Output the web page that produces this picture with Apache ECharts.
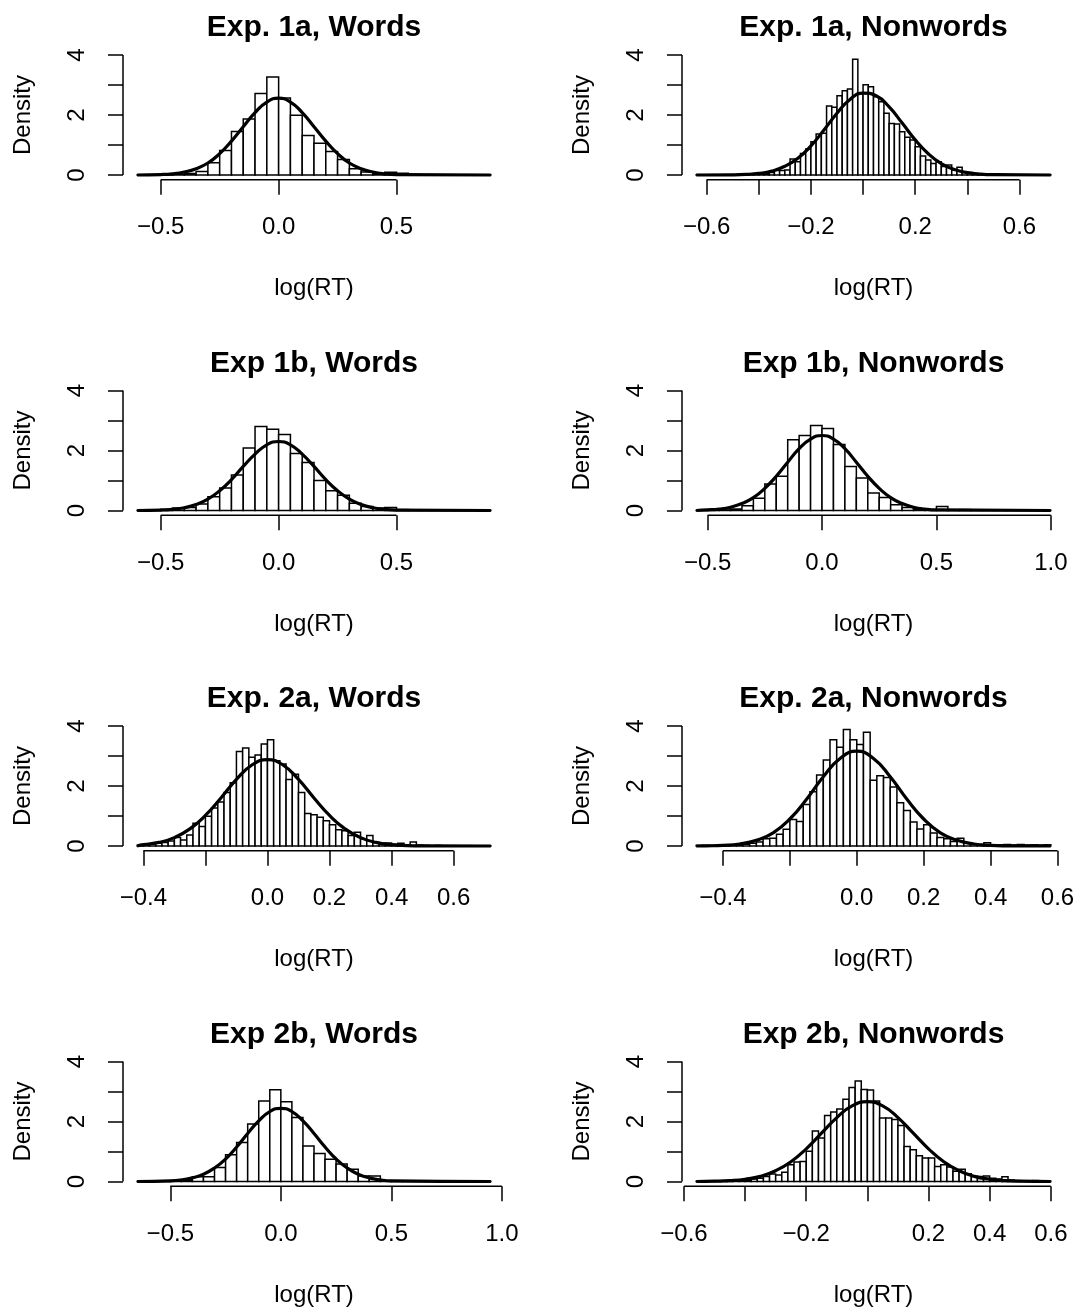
<!DOCTYPE html>
<html>
<head>
<meta charset="utf-8">
<script src="https://cdn.jsdelivr.net/npm/echarts@6/dist/echarts.min.js"></script>
<style>
  html, body { margin: 0; padding: 0; background: #fff; }
  #chart { width: 1078px; height: 1311px; }
</style>
</head>
<body>
<div id="chart"></div>
<script>
// Panel titles, in reading order (left column = words, right column = nonwords)
const panelTitles = [
  'Exp. 1a, Words', 'Exp. 1a, Nonwords',
  'Exp 1b, Words', 'Exp 1b, Nonwords',
  'Exp. 2a, Words', 'Exp. 2a, Nonwords',
  'Exp 2b, Words', 'Exp 2b, Nonwords'
];

// Histogram breaks: first break and bin width of each panel
const binStart = [-0.60, -0.64, -0.60, -0.55, -0.42, -0.48, -0.65, -0.56];
const binWidth = [0.05, 0.02, 0.05, 0.05, 0.02, 0.02, 0.05, 0.02];

// Histogram densities per bin
const dens1aWords = [0.005, 0.005, 0.01, 0.02, 0.05, 0.12, 0.41, 0.82, 1.45, 1.87, 2.72, 3.27, 2.57, 1.99, 1.32,
  1.06, 0.78, 0.52, 0.21, 0.10, 0.05, 0.09, 0.06, 0.02, 0.01, 0.01, 0.005, 0, 0.005, 0.005];
const dens1aNonwords = [0.01, 0, 0, 0.01, 0, 0.01, 0.01, 0.01, 0.02, 0.02, 0.03, 0.03, 0.04, 0.05, 0.08,
  0.15, 0.15, 0.17, 0.53, 0.44, 0.72, 0.87, 1.11, 1.37, 1.39, 2.30, 2.26, 2.64, 2.81, 2.87, 3.86, 2.72,
  3.01, 2.94, 2.61, 2.44, 2.06, 1.72, 1.70, 1.44, 1.26, 1.17, 0.94, 0.63, 0.50, 0.38, 0.44, 0.28, 0.33,
  0.17, 0.26, 0.11, 0.08, 0.05, 0.04, 0.03, 0.04, 0.02, 0.02, 0.01, 0.01, 0.01, 0, 0.01, 0, 0, 0, 0.01];
const dens1bWords = [0.005, 0.02, 0.04, 0.08, 0.10, 0.22, 0.46, 0.75, 1.18, 2.08, 2.80, 2.71, 2.53, 1.90, 1.60,
  1.00, 0.66, 0.51, 0.24, 0.13, 0.08, 0.10, 0.03, 0.02, 0.02, 0.01, 0.005, 0.01, 0.005, 0.005];
const dens1bNonwords = [0.005, 0.01, 0.02, 0.05, 0.16, 0.41, 0.88, 1.14, 2.36, 2.50, 2.83, 2.73, 2.20, 1.47, 1.08,
  0.58, 0.43, 0.19, 0.10, 0.05, 0.02, 0.13, 0.02, 0.03, 0.01, 0.005, 0.005, 0, 0.005, 0, 0.005];
const dens2aWords = [0.02, 0.04, 0.06, 0.09, 0.12, 0.17, 0.28, 0.20, 0.37, 0.76, 0.65, 0.99, 1.27, 1.47, 1.78,
  2.11, 3.15, 3.27, 2.96, 3.03, 3.40, 3.54, 2.84, 2.73, 2.22, 2.39, 1.78, 1.08, 1.04, 0.96, 0.84, 0.71,
  0.54, 0.51, 0.35, 0.46, 0.24, 0.35, 0.12, 0.09, 0.10, 0.06, 0.09, 0.03, 0.13, 0.03, 0.02, 0.01, 0.02,
  0.01, 0.01, 0.01, 0, 0.01, 0, 0, 0.01];
const dens2aNonwords = [0.02, 0.02, 0.02, 0.03, 0.02, 0.03, 0.04, 0.06, 0.09, 0.13, 0.24, 0.26, 0.39, 0.56, 0.88,
  0.82, 1.38, 1.81, 2.37, 2.87, 3.54, 3.29, 3.88, 3.54, 3.38, 3.79, 2.19, 2.34, 2.28, 1.97, 1.44, 1.18,
  0.80, 0.57, 0.71, 0.43, 0.28, 0.24, 0.15, 0.26, 0.09, 0.06, 0.05, 0.11, 0.04, 0.04, 0.05, 0.03, 0.05,
  0.03, 0.04, 0.03, 0.04];
const dens2bWords = [0.005, 0.005, 0.01, 0.01, 0.05, 0.16, 0.16, 0.47, 0.89, 1.30, 1.92, 2.68, 3.06, 2.66, 2.13,
  1.18, 0.93, 0.74, 0.58, 0.41, 0.18, 0.18, 0.02, 0.02, 0.01, 0.01, 0.005, 0.005, 0, 0.005, 0, 0.005];
const dens2bNonwords = [0.01, 0.01, 0.01, 0.02, 0.02, 0.02, 0.03, 0.03, 0.05, 0.08, 0.11, 0.17, 0.25, 0.22, 0.31,
  0.56, 0.65, 0.67, 1.01, 1.68, 1.45, 2.20, 2.32, 2.42, 2.74, 3.13, 3.35, 3.07, 3.05, 2.68, 2.12, 2.12,
  2.07, 1.87, 1.17, 1.06, 0.86, 0.78, 0.78, 0.50, 0.56, 0.48, 0.34, 0.41, 0.26, 0.17, 0.17, 0.18, 0.11,
  0.08, 0.16, 0.05, 0.03, 0.02, 0.02, 0.03, 0.02, 0.01];

// Fitted normal density, sampled at curveX
const curveX = [-0.5, -0.45, -0.4, -0.35, -0.3, -0.25, -0.2, -0.15, -0.1, -0.05, 0,
  0.05, 0.1, 0.15, 0.2, 0.25, 0.3, 0.35, 0.4, 0.45, 0.5];
const fit1aWords = [0.015, 0.04, 0.10, 0.21, 0.40, 0.71, 1.13, 1.61, 2.08, 2.43, 2.56,
  2.43, 2.08, 1.61, 1.13, 0.71, 0.40, 0.21, 0.10, 0.04, 0.015];
const fit1aNonwords = [0.006, 0.019, 0.053, 0.13, 0.29, 0.56, 0.97, 1.50, 2.06, 2.52, 2.73,
  2.64, 2.27, 1.73, 1.17, 0.71, 0.38, 0.18, 0.077, 0.029, 0.010];
const fit1bWords = [0.015, 0.04, 0.093, 0.20, 0.38, 0.66, 1.03, 1.47, 1.88, 2.19, 2.30,
  2.19, 1.88, 1.47, 1.03, 0.66, 0.38, 0.20, 0.093, 0.04, 0.015];
const fit1bNonwords = [0.019, 0.048, 0.11, 0.23, 0.43, 0.74, 1.14, 1.61, 2.06, 2.38, 2.50,
  2.38, 2.06, 1.61, 1.14, 0.74, 0.43, 0.23, 0.11, 0.048, 0.019];
const fit2aWords = [0.004, 0.015, 0.044, 0.12, 0.28, 0.57, 1.02, 1.60, 2.22, 2.70, 2.88,
  2.70, 2.22, 1.60, 1.02, 0.57, 0.28, 0.12, 0.044, 0.015, 0.004];
const fit2aNonwords = [0.001, 0.005, 0.020, 0.067, 0.19, 0.44, 0.90, 1.56, 2.31, 2.92, 3.16,
  2.92, 2.31, 1.56, 0.90, 0.44, 0.19, 0.067, 0.020, 0.005, 0.001];
const fit2bWords = [0.022, 0.054, 0.12, 0.24, 0.45, 0.75, 1.15, 1.60, 2.02, 2.33, 2.44,
  2.33, 2.02, 1.60, 1.15, 0.75, 0.45, 0.24, 0.12, 0.054, 0.022];
const fit2bNonwords = [0.010, 0.030, 0.076, 0.17, 0.36, 0.66, 1.09, 1.61, 2.13, 2.52, 2.66,
  2.52, 2.13, 1.61, 1.09, 0.66, 0.36, 0.17, 0.076, 0.030, 0.010];

// Axis ticks and the tick labels that are printed
const ticksHalf = [-0.5, 0, 0.5];
const ticksHalfToOne = [-0.5, 0, 0.5, 1.0];
const ticksFifthWide = [-0.6, -0.4, -0.2, 0, 0.2, 0.4, 0.6];
const ticksFifth = [-0.4, -0.2, 0, 0.2, 0.4, 0.6];
const labelsFifthWide = [-0.6, -0.2, 0.2, 0.6];
const labelsFifth = [-0.4, 0, 0.2, 0.4, 0.6];
const labelsFifthWideB = [-0.6, -0.2, 0.2, 0.4, 0.6];
const yTicks = [0, 1, 2, 3, 4];
const yLabels = [0, 2, 4];

const densities = [dens1aWords, dens1aNonwords, dens1bWords, dens1bNonwords,
  dens2aWords, dens2aNonwords, dens2bWords, dens2bNonwords];
const fits = [fit1aWords, fit1aNonwords, fit1bWords, fit1bNonwords,
  fit2aWords, fit2aNonwords, fit2bWords, fit2bNonwords];
const xTickSets = [ticksHalf, ticksFifthWide, ticksHalf, ticksHalfToOne,
  ticksFifth, ticksFifth, ticksHalfToOne, ticksFifthWide];
const xLabelSets = [ticksHalf, labelsFifthWide, ticksHalf, ticksHalfToOne,
  labelsFifth, labelsFifth, ticksHalfToOne, labelsFifthWideB];

// ---- layout / style ----
const FONT = '"Liberation Sans", Arial, Helvetica, sans-serif';
const Y_MIN = -0.16, Y_MAX = 4.16;
const PX_PER_UNIT = 30;
const ROW_STEP = 335.5;
const FIRST_ZERO_Y = 175;
const COL_LEFT = [123, 682];
const COL_WIDTH = [382, 383];

const fmtX = v => (v < -1e-9 ? '\u2212' : '') + Math.abs(v).toFixed(1);
const textStyle = { color: '#000', fontSize: 24, fontFamily: FONT };

const grids = [], xAxes = [], yAxes = [], series = [], titles = [];

for (let i = 0; i < 8; i++) {
  const row = Math.floor(i / 2), col = i % 2;
  const zeroY = FIRST_ZERO_Y + ROW_STEP * row;
  const top = zeroY - Y_MAX * PX_PER_UNIT;
  const height = (Y_MAX - Y_MIN) * PX_PER_UNIT;
  grids.push({ left: COL_LEFT[col], top: top, width: COL_WIDTH[col], height: height,
    containLabel: false, outerBoundsMode: 'none' });

  const dens = densities[i];
  const lo = binStart[i];
  const hi = +(lo + dens.length * binWidth[i]).toFixed(4);
  const pad = (hi - lo) * 0.04;
  const xMin = lo - pad, xMax = hi + pad;

  titles.push({
    text: panelTitles[i],
    left: COL_LEFT[col] + COL_WIDTH[col] / 2,
    top: zeroY - 162,
    textAlign: 'center',
    padding: 0,
    textStyle: { color: '#000', fontSize: 30, fontWeight: 'bold', fontFamily: FONT, lineHeight: 30 }
  });

  xAxes.push({
    type: 'value', gridIndex: i, min: xMin, max: xMax,
    splitLine: { show: false },
    axisLine: { show: false, onZero: false },
    axisTick: { show: true, inside: false, length: 15, customValues: xTickSets[i],
      lineStyle: { color: '#000', width: 1.5 } },
    axisLabel: { show: true, customValues: xLabelSets[i], formatter: fmtX, margin: 36,
      color: '#000', fontSize: 24, fontFamily: FONT },
    name: 'log(RT)', nameLocation: 'middle', nameGap: 97, nameTextStyle: textStyle
  });

  yAxes.push({
    type: 'value', gridIndex: i, min: Y_MIN, max: Y_MAX,
    splitLine: { show: false },
    axisLine: { show: false, onZero: false },
    axisTick: { show: true, inside: false, length: 15, customValues: yTicks,
      lineStyle: { color: '#000', width: 1.5 } },
    axisLabel: { show: true, customValues: yLabels, rotate: 90, margin: 34,
      formatter: v => String(Math.round(v)), color: '#000', fontSize: 24, fontFamily: FONT },
    name: 'Density', nameLocation: 'middle', nameRotate: 90, nameGap: 88, nameTextStyle: textStyle
  });

  // histogram bins [left, right, density]
  const bins = dens.map((d, k) => [
    +(lo + k * binWidth[i]).toFixed(4), +(lo + (k + 1) * binWidth[i]).toFixed(4), d
  ]);
  series.push({
    type: 'custom', xAxisIndex: i, yAxisIndex: i, silent: true, z: 2,
    encode: { x: [0, 1], y: 2 },
    data: bins,
    renderItem: (params, api) => {
      const p0 = api.coord([api.value(0), api.value(2)]);
      const p1 = api.coord([api.value(1), 0]);
      return {
        type: 'rect',
        shape: { x: p0[0], y: p0[1], width: p1[0] - p0[0], height: p1[1] - p0[1] },
        style: { fill: '#fff', stroke: '#000', lineWidth: 1.5 }
      };
    }
  });

  // fitted density curve over the histogram range
  const curve = [[lo, 0]];
  curveX.forEach((x, k) => { if (x > lo && x < hi) curve.push([x, fits[i][k]]); });
  curve.push([hi, 0]);
  series.push({
    type: 'line', xAxisIndex: i, yAxisIndex: i, silent: true, z: 4,
    data: curve, smooth: true, symbol: 'none', clip: false,
    lineStyle: { color: '#000', width: 3.2 }
  });

  // axis lines spanning first to last tick
  const xt = xTickSets[i];
  series.push({
    type: 'line', xAxisIndex: i, yAxisIndex: i, silent: true, z: 5,
    data: [[xt[0], Y_MIN], [xt[xt.length - 1], Y_MIN]], symbol: 'none', clip: false,
    lineStyle: { color: '#000', width: 1.5 }
  });
  series.push({
    type: 'line', xAxisIndex: i, yAxisIndex: i, silent: true, z: 5,
    data: [[xMin, yTicks[0]], [xMin, yTicks[yTicks.length - 1]]], symbol: 'none', clip: false,
    lineStyle: { color: '#000', width: 1.5 }
  });
}

const chart = echarts.init(document.getElementById('chart'), null, { renderer: 'canvas' });
chart.setOption({
  animation: false,
  backgroundColor: '#fff',
  title: titles,
  grid: grids,
  xAxis: xAxes,
  yAxis: yAxes,
  series: series
});
</script>
</body>
</html>
